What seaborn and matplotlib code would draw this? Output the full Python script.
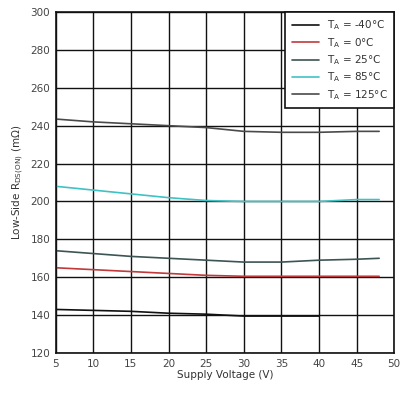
import pandas as pd
import numpy as np
import matplotlib
matplotlib.use("Agg")
import matplotlib.pyplot as plt
import seaborn as sns

# DATA
voltage = [5, 10, 15, 20, 25, 30, 35, 40, 45, 48]
r_m40 = [143, 142.5, 142, 141, 140.5, 139.5, 139.5, 139.5]
r_0 = [165, 164, 163, 162, 161, 160.5, 160.5, 160.5, 160.5, 160.5]
r_25 = [174, 172.5, 171, 170, 169, 168, 168, 169, 169.5, 170]
r_85 = [208, 206, 204, 202, 200.5, 200, 200, 200, 201, 201]
r_125 = [243.5, 242, 241, 240, 239, 237, 236.5, 236.5, 237, 237]

labels = [r'T$_\mathrm{A}$ = -40°C', r'T$_\mathrm{A}$ = 0°C', r'T$_\mathrm{A}$ = 25°C',
          r'T$_\mathrm{A}$ = 85°C', r'T$_\mathrm{A}$ = 125°C']
series = [r_m40, r_0, r_25, r_85, r_125]
colors = ['#111111', '#c0393b', '#3d5454', '#3fc2c4', '#4a4a4a']

rows = []
for lab, vals in zip(labels, series):
    for v, r in zip(voltage, vals):
        rows.append({'Voltage': v, 'R': r, 'Temp': lab})
df = pd.DataFrame(rows)

sns.set_style("white")
plt.rcParams['font.family'] = ['DejaVu Sans']

fig = plt.figure(figsize=(4.02, 3.95), dpi=100)
ax = fig.add_axes([0.1386, 0.1063, 0.842, 0.8633])

sns.lineplot(data=df, x='Voltage', y='R', hue='Temp', palette=dict(zip(labels, colors)),
             hue_order=labels, linewidth=1.2, ax=ax)

ax.set_xlim(5, 50)
ax.set_ylim(120, 300)
ax.set_xticks(np.arange(5, 51, 5))
ax.set_yticks(np.arange(120, 301, 20))
ax.grid(True, color='#111111', linewidth=1.0)
ax.set_axisbelow(True)
for s in ax.spines.values():
    s.set_color('#111111')
    s.set_linewidth(1.2)
ax.tick_params(axis='both', labelsize=7.5, colors='#444444', length=0, pad=4)
ax.set_xlabel('Supply Voltage (V)', fontsize=7.5, color='#333333', labelpad=1)
ax.set_ylabel(r'Low-Side R$_{\mathrm{DS(ON)}}$ (m$\Omega$)', fontsize=7.5, color='#333333', labelpad=3)

leg = ax.legend(loc='upper right', fontsize=7.5, frameon=True, fancybox=False,
                edgecolor='#111111', framealpha=1, borderaxespad=0.0,
                handlelength=2.6, labelspacing=0.35, borderpad=0.6)
leg.get_frame().set_linewidth(1.2)
for t in leg.get_texts():
    t.set_color('#333333')

plt.savefig('out.png', dpi=100)
